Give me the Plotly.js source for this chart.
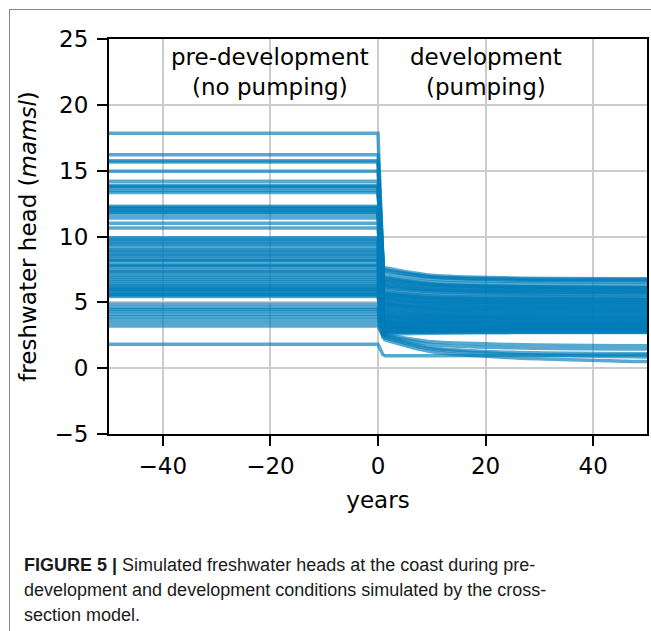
<!DOCTYPE html>
<html>
<head>
<meta charset="utf-8">
<script src="https://cdn.plot.ly/plotly-3.0.1.min.js"></script>
<style>
  html, body { margin: 0; padding: 0; background: #fff; }
  #wrap { position: relative; width: 651px; height: 631px; overflow: hidden; }
  #chart { position: absolute; left: 0; top: 0; width: 651px; height: 631px; }
  #frame { position: absolute; left: 9px; top: 9px; width: 660px; height: 640px;
           border-left: 1px solid #8a8a8a; border-top: 1px solid #8a8a8a; pointer-events: none; }
  #caption { position: absolute; left: 24px; top: 553px; width: 625px;
             font-family: "Liberation Sans", Arial, sans-serif; font-size: 18px;
             line-height: 25px; color: #1a1a1a; white-space: nowrap; }
  #caption b { font-weight: bold; }
</style>
</head>
<body>
<div id="wrap">
  <div id="chart"></div>
  <div id="frame"></div>
  <div id="caption"><b>FIGURE 5 |</b> Simulated freshwater heads at the coast during pre-<br>development and development conditions simulated by the cross-<br>section model.</div>
</div>
<script>
// Time axis (years relative to the start of pumping)
const preYears = [-50, 0, 1];
const devYears = [1, 10, 25, 50];

// Steady pre-development head for each simulation (mamsl)
const preHead = [17.85, 16.2, 15.75, 15.65, 14.95, 14.2, 13.9, 13.7, 13.5, 13.35,
                 12.3, 12.15, 12.0, 11.85, 11.65, 11.4, 11.0, 10.65, 9.9, 9.65,
                 9.4, 9.2, 9.0, 8.75, 8.5, 8.3, 8.13, 7.9, 7.7, 7.5,
                 7.25, 7.05, 6.75, 6.6, 6.45, 6.3, 6.2, 6.05, 5.95, 5.8,
                 5.7, 5.55, 5.45, 4.85, 4.6, 4.45, 4.1, 3.9, 3.7, 3.45,
                 3.2, 4.3, 1.82,
                 12.2, 11.9, 9.8, 9.5, 8.9, 8.6, 8.2, 7.8, 7.35, 6.9,
                 6.0, 5.6, 13.8];

// Heads during development (pumping) at years 1, 10, 25 and 50
const head1  = [6.9, 7.65, 7.4, 7.2, 6.7, 7.5, 6.5, 6.95, 6.3, 6.6,
                6.1, 5.95, 6.4, 5.8, 5.6, 6.2, 5.5, 5.35, 5.7, 5.2,
                5.05, 4.9, 5.25, 4.75, 4.6, 4.45, 4.85, 4.3, 4.2, 4.05,
                4.4, 3.95, 3.85, 3.75, 3.6, 3.5, 3.7, 3.4, 3.3, 3.2,
                3.1, 3.0, 2.9, 2.8, 2.6, 2.7, 3.05, 2.6, 2.5, 2.45,
                2.35, 2.2, 0.95,
                5.65, 4.95, 4.65, 3.9, 5.4, 3.55, 4.1, 3.45, 3.25, 3.15,
                2.95, 2.75, 6.8];
const head10 = [6.4, 7.05, 6.9, 6.75, 6.3, 6.95, 6.1, 6.55, 5.95, 6.2,
                5.8, 5.6, 6.0, 5.5, 5.3, 5.85, 5.2, 5.05, 5.35, 4.95,
                4.8, 4.65, 4.9, 4.5, 4.35, 4.25, 4.55, 4.1, 4.0, 3.9,
                4.15, 3.8, 3.7, 3.6, 3.5, 3.4, 3.55, 3.3, 3.2, 3.1,
                3.0, 2.95, 2.85, 2.8, 2.65, 2.75, 3.0, 2.0, 1.8, 1.55,
                1.45, 1.25, 0.95,
                5.35, 4.7, 4.4, 3.75, 5.1, 3.45, 3.95, 3.35, 3.15, 3.05,
                2.9, 2.75, 6.35];
const head25 = [6.2, 6.85, 6.7, 6.6, 6.15, 6.8, 5.95, 6.4, 5.8, 6.05,
                5.65, 5.5, 5.9, 5.4, 5.2, 5.75, 5.05, 4.95, 5.25, 4.85,
                4.7, 4.55, 4.75, 4.4, 4.25, 4.15, 4.45, 4.0, 3.9, 3.8,
                4.05, 3.7, 3.6, 3.5, 3.4, 3.3, 3.45, 3.25, 3.15, 3.05,
                2.95, 2.9, 2.85, 2.8, 2.7, 2.75, 3.0, 1.8, 1.55, 1.2,
                1.05, 0.8, 0.97,
                5.25, 4.6, 4.3, 3.65, 4.98, 3.35, 3.85, 3.3, 3.1, 3.0,
                2.88, 2.75, 6.2];
const head50 = [6.1, 6.8, 6.65, 6.55, 6.1, 6.75, 5.9, 6.35, 5.75, 6.0,
                5.6, 5.45, 5.85, 5.35, 5.15, 5.7, 5.0, 4.9, 5.2, 4.8,
                4.65, 4.5, 4.7, 4.35, 4.2, 4.1, 4.4, 3.95, 3.85, 3.75,
                4.0, 3.65, 3.55, 3.5, 3.4, 3.3, 3.45, 3.2, 3.15, 3.05,
                2.95, 2.9, 2.85, 2.8, 2.7, 2.75, 3.0, 1.7, 1.45, 1.1,
                0.85, 0.5, 1.0,
                5.2, 4.55, 4.25, 3.6, 4.95, 3.35, 3.8, 3.25, 3.1, 3.0,
                2.88, 2.75, 6.15];

// Axis ticks
const xTicks = [-40, -20, 0, 20, 40];
const yTicks = [-5, 0, 5, 10, 15, 20, 25];

const lineColor = 'rgba(0,125,185,0.66)';
const lineWidth = 3.5;
const traces = [];
preHead.forEach((p, i) => {
  // steady state, then the drop when pumping starts
  traces.push({
    type: 'scatter', mode: 'lines', x: preYears, y: [p, p, head1[i]],
    line: { color: lineColor, width: lineWidth }, hoverinfo: 'skip'
  });
  // transient response under pumping
  traces.push({
    type: 'scatter', mode: 'lines', x: devYears,
    y: [head1[i], head10[i], head25[i], head50[i]],
    line: { color: lineColor, width: lineWidth, shape: 'spline', smoothing: 0.8 },
    hoverinfo: 'skip'
  });
});

const font = { family: 'DejaVu Sans, sans-serif', size: 23, color: '#000' };

const layout = {
  width: 651,
  height: 631,
  margin: { l: 109, r: 4, t: 39, b: 197 },
  paper_bgcolor: '#fff',
  plot_bgcolor: '#fff',
  showlegend: false,
  hovermode: false,
  font: font,
  xaxis: {
    range: [-50, 50],
    tickvals: xTicks,
    ticks: 'outside', ticklen: 10, tickwidth: 2, tickcolor: '#000',
    showline: true, linecolor: '#000', linewidth: 2, mirror: true,
    showgrid: true, gridcolor: '#cccccc', gridwidth: 2,
    zeroline: false,
    tickfont: font,
    title: { text: 'years', font: font, standoff: 14 }
  },
  yaxis: {
    range: [-5, 25],
    tickvals: yTicks,
    ticks: 'outside', ticklen: 10, tickwidth: 2, tickcolor: '#000',
    ticklabelstandoff: 4,
    showline: true, linecolor: '#000', linewidth: 2, mirror: true,
    showgrid: true, gridcolor: '#cccccc', gridwidth: 2,
    zeroline: false,
    tickfont: font,
    title: { text: 'freshwater head (<i>mamsl</i>)', font: font, standoff: 11 }
  },
  annotations: [
    { x: -20, y: 22.5, xref: 'x', yref: 'y', text: 'pre-development<br>(no pumping)',
      showarrow: false, font: font, xanchor: 'center', yanchor: 'middle' },
    { x: 20, y: 22.5, xref: 'x', yref: 'y', text: 'development<br>(pumping)',
      showarrow: false, font: font, xanchor: 'center', yanchor: 'middle' }
  ]
};

Plotly.newPlot('chart', traces, layout, { staticPlot: true, displayModeBar: false });
</script>
</body>
</html>
